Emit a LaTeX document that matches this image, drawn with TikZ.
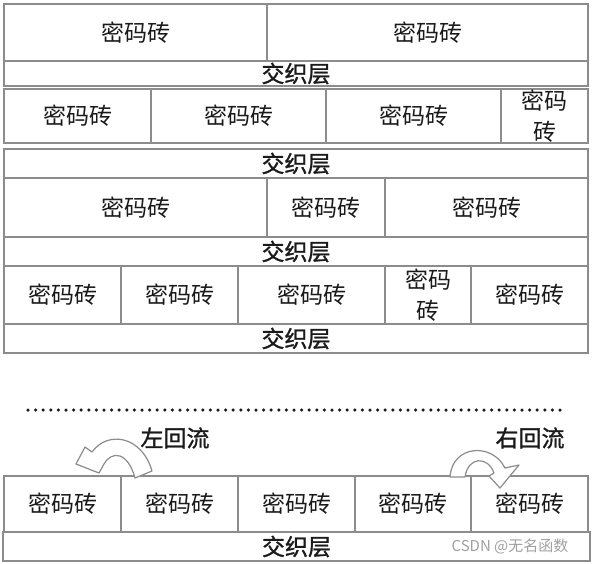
\documentclass[tikz,border=0pt]{standalone}
\usepackage{fontspec}
\newfontfamily\cjk{Noto Sans CJK SC}
\newfontfamily\cjkbold[FakeBold=1.2]{Noto Sans CJK SC}
\definecolor{wallgray}{HTML}{8C8C8C}
\definecolor{wallink}{HTML}{1A1A1A}
\definecolor{markgray}{HTML}{A0A0A0}
\tikzset{
  brick/.style={draw=wallgray, line width=1.2pt, inner sep=0pt, text=wallink,
    font=\cjk\fontsize{23}{31}\selectfont, align=center},
  layer/.style={brick, font=\cjkbold\fontsize{23}{31}\selectfont},
  flow/.style={draw=wallgray, line width=1.2pt, fill=white, line join=round},
  flowlabel/.style={text=wallink, font=\cjkbold\fontsize{23}{31}\selectfont},
}

\begin{document}
\begin{tikzpicture}[x=1pt, y=-1pt]
  \useasboundingbox (0,0) rectangle (593,563);
  % first wall
  \node[brick, minimum width=263pt, minimum height=57pt] (a1) at (135.5,32.5) {密码砖};
  \node[brick, minimum width=321pt, minimum height=57pt] (a2) at (427.5,32.5) {密码砖};
  \node[layer, minimum width=584pt, minimum height=25pt] (l1) at (296,73.5) {交织层};
  \node[brick, minimum width=147pt, minimum height=54pt] (b1) at (77.5,116) {密码砖};
  \node[brick, minimum width=175pt, minimum height=54pt] (b2) at (238.5,116) {密码砖};
  \node[brick, minimum width=175pt, minimum height=54pt] (b3) at (413.5,116) {密码砖};
  \node[brick, minimum width=87pt, minimum height=54pt] (b4) at (544.5,116) {密码\\砖};
  % second wall
  \node[layer, minimum width=584pt, minimum height=29pt] (l2) at (296,163.5) {交织层};
  \node[brick, minimum width=263pt, minimum height=59pt] (c1) at (135.5,207.5) {密码砖};
  \node[brick, minimum width=118pt, minimum height=59pt] (c2) at (326,207.5) {密码砖};
  \node[brick, minimum width=203pt, minimum height=59pt] (c3) at (486.5,207.5) {密码砖};
  \node[layer, minimum width=584pt, minimum height=29pt] (l3) at (296,251.5) {交织层};
  \node[brick, minimum width=117pt, minimum height=58pt] (d1) at (62.5,295) {密码砖};
  \node[brick, minimum width=117pt, minimum height=58pt] (d2) at (179.5,295) {密码砖};
  \node[brick, minimum width=147pt, minimum height=58pt] (d3) at (311.5,295) {密码砖};
  \node[brick, minimum width=86pt, minimum height=58pt] (d4) at (428,295) {密码\\砖};
  \node[brick, minimum width=117pt, minimum height=58pt] (d5) at (529.5,295) {密码砖};
  \node[layer, minimum width=584pt, minimum height=29pt] (l4) at (296,338.5) {交织层};
  % ellipsis
  \coordinate (dotl) at (28,410);
  \coordinate (dotr) at (566,410);
  \draw[wallink, line width=3.5pt, line cap=round, dash pattern=on 0pt off 7.6pt] (dotl) -- (dotr);
  % last wall
  \node[brick, minimum width=117pt, minimum height=56pt] (e1) at (62.5,504) {密码砖};
  \node[brick, minimum width=117pt, minimum height=56pt] (e2) at (179.5,504) {密码砖};
  \node[brick, minimum width=117pt, minimum height=56pt] (e3) at (296.5,504) {密码砖};
  \node[brick, minimum width=116pt, minimum height=56pt] (e4) at (413,504) {密码砖};
  \node[brick, minimum width=117pt, minimum height=56pt] (e5) at (529.5,504) {密码砖};
  \node[layer, minimum width=587pt, minimum height=29pt] (l5) at (296.5,546.5) {交织层};
  % return flows
  \draw[flow] (135,478) -- (152,471) .. controls (142,436) and (108,430) .. (92,452)
    -- (85,447) -- (76,464) -- (99,473) -- (104,464)
    .. controls (112,450) and (128,452) .. cycle;
  \draw[flow] (450,477) .. controls (452,445) and (492,442) .. (505,468)
    -- (519,465) -- (500,488) -- (489,476) -- (494,473)
    .. controls (488,456) and (468,456) .. (465,477) -- cycle;
  \node[flowlabel] (lflow) at (175,438) {左回流};
  \node[flowlabel] (rflow) at (530,438) {右回流};
  \node[text=markgray, font=\cjk\fontsize{15}{18}\selectfont] (mark) at (510,546) {CSDN @无名函数};
\end{tikzpicture}
\end{document}
